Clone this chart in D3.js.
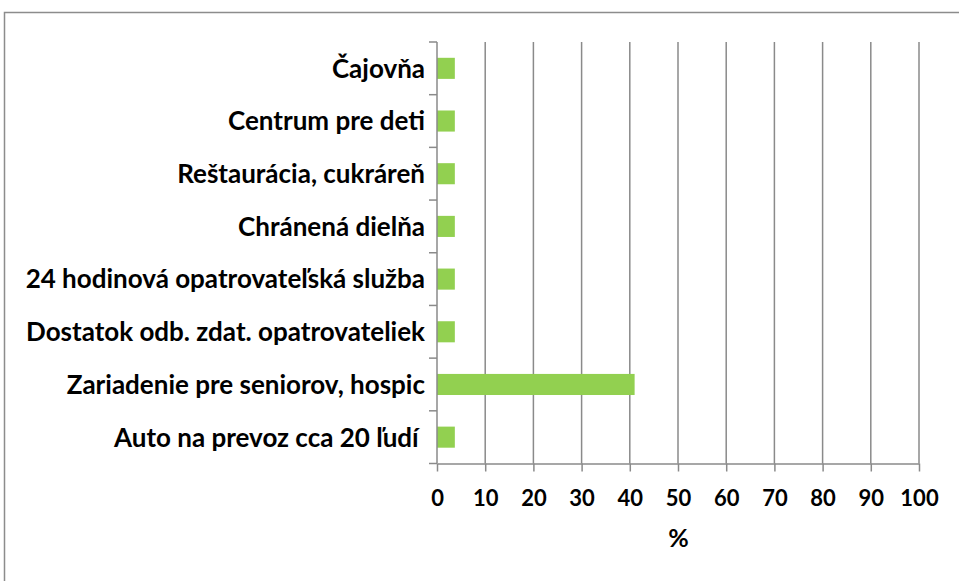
<!DOCTYPE html>
<html>
<head>
<meta charset="utf-8">
<script src="https://cdn.jsdelivr.net/npm/d3@7"></script>
<style>
  body { margin: 0; background: #fff; }
  svg text { white-space: pre; }
</style>
</head>
<body>
<div id="chart"></div>
<script>
// data
var categories = [
  "Čajovňa",
  "Centrum pre deti",
  "Reštaurácia, cukráreň",
  "Chránená dielňa",
  "24 hodinová opatrovateľská služba",
  "Dostatok odb. zdat. opatrovateliek",
  "Zariadenie pre seniorov, hospic",
  "Auto na prevoz cca 20 ľudí "
];
var values = [3.7, 3.7, 3.7, 3.7, 3.7, 3.7, 41, 3.7];
var xTicks = [0, 10, 20, 30, 40, 50, 60, 70, 80, 90, 100];
var xTitle = "%";

var attrs = {
  svgWidth: 959,
  svgHeight: 581,
  left: 437,
  right: 919,
  top: 42,
  bottom: 463.5,
  gridColor: '#8a8a8a',
  barColor: '#92d050',
  font: 'Lato, Calibri, sans-serif'
};

var svg = d3.select('#chart').append('svg')
  .attr('width', attrs.svgWidth)
  .attr('height', attrs.svgHeight)
  .attr('font-family', attrs.font);

// outer frame (runs past the right and bottom edges)
svg.append('rect')
  .attr('x', 4.5).attr('y', 12.5)
  .attr('width', 1000).attr('height', 1000)
  .attr('fill', 'none')
  .attr('stroke', '#8c8c8c')
  .attr('stroke-width', 1.5);

var xScale = d3.scaleLinear().domain([0, 100]).range([attrs.left, attrs.right]);
var yScale = d3.scaleBand().domain(categories)
  .range([attrs.top, attrs.bottom])
  .paddingInner(0.6).paddingOuter(0.3);

// vertical gridlines
svg.append('g').selectAll('line.grid')
  .data(xTicks.slice(1))
  .join('line')
  .attr('class', 'grid')
  .attr('x1', d => xScale(d)).attr('x2', d => xScale(d))
  .attr('y1', attrs.top).attr('y2', attrs.bottom)
  .attr('stroke', attrs.gridColor)
  .attr('stroke-width', 1.5);

// bars
svg.append('g').selectAll('rect.bar')
  .data(categories)
  .join('rect')
  .attr('class', 'bar')
  .attr('x', xScale(0))
  .attr('y', d => yScale(d))
  .attr('width', (d, i) => xScale(values[i]) - xScale(0))
  .attr('height', yScale.bandwidth())
  .attr('fill', attrs.barColor);

// x axis
var xAxis = d3.axisBottom(xScale).tickValues(xTicks).tickSize(8).tickPadding(19).tickSizeOuter(0);
var gx = svg.append('g')
  .attr('transform', 'translate(0,' + attrs.bottom + ')')
  .call(xAxis);
gx.select('.domain').attr('stroke', attrs.gridColor).attr('stroke-width', 1.5);
gx.selectAll('.tick line').attr('stroke', attrs.gridColor).attr('stroke-width', 1.5);
gx.selectAll('.tick text')
  .attr('font-size', 22)
  .attr('font-weight', 700)
  .attr('fill', '#000')
  .attr('font-family', attrs.font);

// y axis: ticks sit on the band boundaries
var step = yScale.step();
var yBounds = d3.range(categories.length + 1).map(i => attrs.top + i * step);
svg.append('line')
  .attr('x1', attrs.left).attr('x2', attrs.left)
  .attr('y1', attrs.top).attr('y2', attrs.bottom)
  .attr('stroke', attrs.gridColor).attr('stroke-width', 1.5);
svg.append('g').selectAll('line.ytick')
  .data(yBounds)
  .join('line')
  .attr('class', 'ytick')
  .attr('x1', attrs.left - 8).attr('x2', attrs.left)
  .attr('y1', d => d).attr('y2', d => d)
  .attr('stroke', attrs.gridColor).attr('stroke-width', 1.5);

// category labels
svg.append('g').selectAll('text.cat')
  .data(categories)
  .join('text')
  .attr('class', 'cat')
  .attr('x', attrs.left - 12)
  .attr('y', d => yScale(d) + yScale.bandwidth() / 2)
  .attr('dy', '0.36em')
  .attr('text-anchor', 'end')
  .attr('font-size', 26)
  .attr('font-weight', 700)
  .text(d => d);

// axis title
svg.append('text')
  .attr('x', (attrs.left + attrs.right) / 2 + 0.5)
  .attr('y', 547)
  .attr('text-anchor', 'middle')
  .attr('font-size', 25)
  .attr('font-weight', 700)
  .text(xTitle);
</script>
</body>
</html>
